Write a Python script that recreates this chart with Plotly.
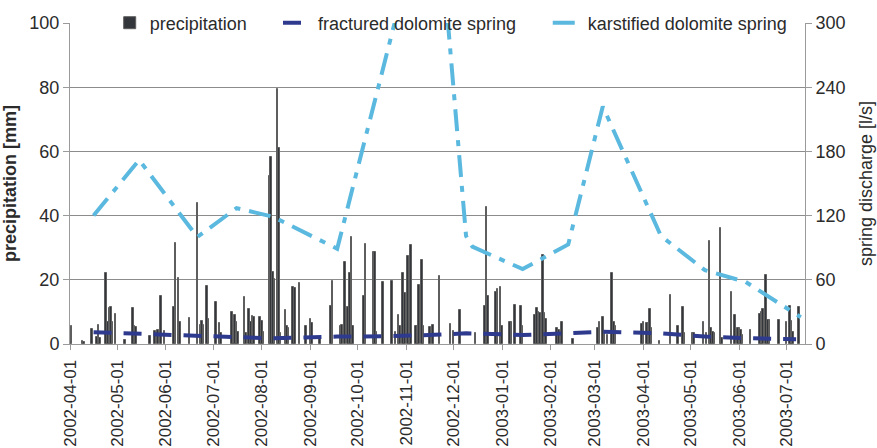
import plotly.graph_objects as go

# ---------------- data ----------------
precip_dates = [
    "2002-04-01", "2002-04-02", "2002-04-09", "2002-04-10", "2002-04-15", "2002-04-18", "2002-04-19",
    "2002-04-20", "2002-04-24", "2002-04-25", "2002-04-26", "2002-04-27", "2002-04-28", "2002-04-30",
    "2002-05-06", "2002-05-11", "2002-05-12", "2002-05-13", "2002-05-22", "2002-05-25", "2002-05-27",
    "2002-05-29", "2002-05-31",
    "2002-06-06", "2002-06-07", "2002-06-09", "2002-06-10", "2002-06-16", "2002-06-21", "2002-06-23",
    "2002-06-24", "2002-06-25", "2002-06-27", "2002-06-28",
    "2002-07-03", "2002-07-05", "2002-07-06", "2002-07-13", "2002-07-14", "2002-07-15", "2002-07-16",
    "2002-07-17", "2002-07-21", "2002-07-22", "2002-07-24", "2002-07-25", "2002-07-26", "2002-07-27",
    "2002-07-31",
    "2002-08-01", "2002-08-02", "2002-08-06", "2002-08-07", "2002-08-08", "2002-08-09", "2002-08-11",
    "2002-08-12", "2002-08-13", "2002-08-16", "2002-08-17", "2002-08-18", "2002-08-21", "2002-08-22",
    "2002-08-25", "2002-08-29",
    "2002-09-01", "2002-09-02", "2002-09-07", "2002-09-14", "2002-09-15", "2002-09-20", "2002-09-21",
    "2002-09-23", "2002-09-25", "2002-09-26", "2002-09-27", "2002-09-28",
    "2002-10-05", "2002-10-06", "2002-10-11", "2002-10-12", "2002-10-13", "2002-10-17", "2002-10-23",
    "2002-10-25", "2002-10-27", "2002-10-28", "2002-10-30", "2002-10-31",
    "2002-11-02", "2002-11-03", "2002-11-04", "2002-11-07", "2002-11-08", "2002-11-09", "2002-11-11",
    "2002-11-12", "2002-11-16", "2002-11-18", "2002-11-22", "2002-11-29",
    "2002-12-01", "2002-12-05", "2002-12-15", "2002-12-21", "2002-12-22", "2002-12-23", "2002-12-28",
    "2002-12-29", "2002-12-31",
    "2003-01-01", "2003-01-06", "2003-01-07", "2003-01-09", "2003-01-13", "2003-01-14", "2003-01-22",
    "2003-01-23", "2003-01-24", "2003-01-25", "2003-01-26", "2003-01-27", "2003-01-28", "2003-01-29",
    "2003-02-05", "2003-02-06", "2003-02-08", "2003-02-15",
    "2003-03-03", "2003-03-04", "2003-03-06", "2003-03-07", "2003-03-09", "2003-03-12", "2003-03-13",
    "2003-03-14", "2003-03-31",
    "2003-04-01", "2003-04-03", "2003-04-04", "2003-04-05", "2003-04-06", "2003-04-11", "2003-04-18",
    "2003-04-23", "2003-04-26", "2003-04-27",
    "2003-05-02", "2003-05-03", "2003-05-09", "2003-05-11", "2003-05-13", "2003-05-14", "2003-05-15",
    "2003-05-16", "2003-05-20", "2003-05-21", "2003-05-27", "2003-05-29", "2003-05-31",
    "2003-06-01", "2003-06-02", "2003-06-03", "2003-06-08", "2003-06-14", "2003-06-15", "2003-06-16",
    "2003-06-18", "2003-06-19", "2003-06-20", "2003-06-26",
    "2003-07-01", "2003-07-03", "2003-07-04", "2003-07-05", "2003-07-09",
]
precip_mm = [
    2.5, 5.7, 1.0, 0.5, 4.6, 2.1, 5.8,
    2.0, 22.2, 6.9, 11.1, 11.4, 7.0, 9.2,
    1.4, 11.1, 5.5, 5.3, 2.5, 4.0, 4.5,
    15.0, 4.0,
    11.6, 31.4, 20.7, 6.9, 8.2, 44.0, 5.8,
    7.3, 5.8, 18.1, 7.8,
    13.2, 6.4, 3.3, 10.1, 5.5, 9.0, 6.9,
    3.8, 14.5, 3.3, 10.8, 6.9, 8.7, 8.5,
    8.3,
    7.3, 3.8, 52.3, 58.2, 22.5, 20.3, 79.3,
    61.0, 3.3, 10.6, 5.5, 5.0, 17.7, 17.4,
    18.9, 5.7,
    7.8, 6.4, 1.5, 11.8, 19.6, 5.5, 6.0,
    25.6, 11.4, 22.2, 33.2, 5.5,
    15.0, 31.2, 28.8, 28.6, 3.8, 19.4, 19.7,
    3.8, 9.0, 5.5, 22.2, 15.8,
    27.4, 15.8, 30.8, 5.7, 5.7, 18.3, 26.2,
    5.5, 5.2, 5.9, 21.2, 6.2,
    4.0, 10.6, 3.3, 11.8, 42.8, 15.0, 16.2,
    17.0, 17.8,
    5.5, 6.9, 6.9, 12.0, 11.8, 5.5, 9.0,
    11.1, 10.1, 9.8, 5.5, 27.7, 9.6, 7.8,
    5.0, 4.5, 6.9, 1.5,
    5.0, 6.9, 8.3, 3.3, 2.9, 22.2, 6.9,
    5.5, 6.2,
    6.9, 6.6, 6.6, 10.8, 5.0, 1.0, 15.3,
    5.5, 11.4, 3.3,
    3.3, 3.5, 6.9, 3.3, 32.2, 5.0, 3.8,
    3.3, 36.0, 2.0, 16.3, 9.0, 5.0,
    5.0, 4.5, 2.9, 4.5, 9.2, 10.1, 10.8,
    21.5, 7.6, 7.6, 7.6,
    6.9, 11.8, 7.3, 3.8, 11.4,
]

fractured_dates = [
    "2002-04-16", "2002-05-15", "2002-06-21", "2002-07-16", "2002-08-08", "2002-09-18",
    "2002-10-18", "2002-11-19", "2002-12-09", "2003-01-14", "2003-02-12", "2003-03-06",
    "2003-04-12", "2003-05-10", "2003-06-05", "2003-07-07",
]
fractured_ls = [11.0, 9.5, 7.5, 6.5, 5.3, 6.9, 7.2, 8.6, 10.0, 8.4, 10.0, 11.5, 10.0, 7.0, 5.5, 4.4]

karst_dates = [
    "2002-04-16", "2002-05-15", "2002-06-21", "2002-07-16", "2002-08-08", "2002-09-18",
    "2002-11-19", "2002-12-09", "2002-12-13", "2003-01-14", "2003-02-12", "2003-03-06",
    "2003-04-12", "2003-05-10", "2003-06-05", "2003-07-10",
]
karst_ls = [120, 172, 100, 127, 119, 89, 447, 101, 91, 70, 93, 222, 101, 69, 58, 25]

left_ticks = [0, 20, 40, 60, 80, 100]
right_ticks = [0, 60, 120, 180, 240, 300]

FONT = "Liberation Sans, Arial, Helvetica, sans-serif"
TXT = "#2b2b2b"
AXC = "#9a9a9a"
GRID = "#8c8c8c"

fig = go.Figure()

fig.add_trace(go.Bar(
    x=precip_dates, y=precip_mm, name="precipitation",
    marker=dict(color="#33363a", line=dict(color="#5e5e5e", width=1.0)),
    width=86400000 * 1.0,
    legend="legend",
))
fig.add_trace(go.Scatter(
    x=fractured_dates, y=fractured_ls, name="fractured dolomite spring",
    mode="lines", yaxis="y2",
    line=dict(color="#2e3a8e", width=4, dash="18px,12px"),
    legend="legend2",
))
fig.add_trace(go.Scatter(
    x=karst_dates, y=karst_ls, name="karstified dolomite spring",
    mode="lines", yaxis="y2",
    line=dict(color="#5bb9df", width=4, dash="22px,9px,6px,9px"),
    legend="legend3",
))

leg_common = dict(orientation="h", yanchor="middle", y=1.0, xanchor="left",
                  bgcolor="rgba(0,0,0,0)", font=dict(family=FONT, size=18, color=TXT))

fig.update_layout(
    width=877, height=448,
    margin=dict(l=70, r=72, t=23, b=104, autoexpand=False),
    paper_bgcolor="white", plot_bgcolor="white",
    font=dict(family=FONT, size=18, color=TXT),
    bargap=0,
    showlegend=True,
    legend=dict(x=0.054, **leg_common),
    legend2=dict(x=0.283, **leg_common),
    legend3=dict(x=0.650, **leg_common),
    xaxis=dict(
        type="date",
        range=["2002-04-01", "2003-07-12 16:00"],
        tick0="2002-04-01", dtick="M1", tickformat="%Y-%m-%d",
        tickangle=-90, tickfont=dict(family=FONT, size=17, color=TXT),
        ticks="outside", ticklen=5, tickcolor=AXC, ticklabelstandoff=3,
        showline=True, linecolor=AXC, linewidth=1,
        showgrid=False, zeroline=False, automargin=False,
    ),
    yaxis=dict(
        range=[0, 100], tickvals=left_ticks,
        ticks="outside", ticklen=6, tickcolor=AXC,
        showline=True, linecolor=AXC, linewidth=1,
        showgrid=True, gridcolor=GRID, gridwidth=1, zeroline=False,
        tickfont=dict(family=FONT, size=18, color=TXT),
        title=dict(text="<b>precipitation [mm]</b>", font=dict(family=FONT, size=18, color=TXT), standoff=8),
        automargin=False,
    ),
    yaxis2=dict(
        range=[0, 300], tickvals=right_ticks,
        overlaying="y", side="right",
        ticks="outside", ticklen=6, tickcolor=AXC,
        showline=True, linecolor=AXC, linewidth=1,
        showgrid=False, zeroline=False,
        tickfont=dict(family=FONT, size=18, color=TXT),
        title=dict(text="spring discharge [l/s]", font=dict(family=FONT, size=18, color=TXT), standoff=14),
        automargin=False,
    ),
)

fig.write_html("out.html", config={"displayModeBar": False},
               post_script="document.body.style.margin='0';document.body.style.overflow='hidden';")
